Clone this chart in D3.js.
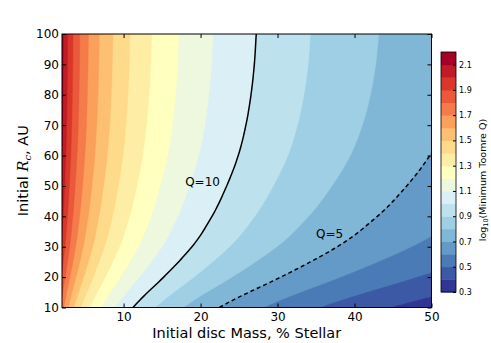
<!DOCTYPE html>
<html>
<head>
<meta charset="utf-8">
<script src="https://cdn.jsdelivr.net/npm/d3@7"></script>
<style>
  body { margin: 0; background: #fff; }
  text { font-family: "DejaVu Sans", sans-serif; fill: #000; }
</style>
</head>
<body>
<script>
// grid columns: initial disc mass, % stellar
var massCols = [ 2, 3, 5, 7, 10, 15, 20, 30, 40, 50 ];
// grid rows: initial Rc, AU
var rcRows = [ 10, 20, 30, 40, 50, 60, 70, 80, 90, 100 ];
// log10(minimum Toomre Q), one row per Rc
var logQ = [
  [ 1.749, 1.573, 1.351, 1.205, 1.050, 0.874, 0.749, 0.573, 0.448, 0.351 ],
  [ 1.881, 1.705, 1.483, 1.337, 1.182, 1.006, 0.881, 0.705, 0.580, 0.483 ],
  [ 1.975, 1.799, 1.577, 1.431, 1.276, 1.100, 0.975, 0.799, 0.674, 0.577 ],
  [ 2.031, 1.855, 1.633, 1.487, 1.332, 1.156, 1.031, 0.855, 0.730, 0.633 ],
  [ 2.068, 1.892, 1.670, 1.524, 1.369, 1.193, 1.068, 0.892, 0.767, 0.670 ],
  [ 2.095, 1.919, 1.697, 1.551, 1.396, 1.220, 1.095, 0.919, 0.794, 0.697 ],
  [ 2.112, 1.936, 1.714, 1.568, 1.413, 1.237, 1.112, 0.936, 0.811, 0.714 ],
  [ 2.123, 1.947, 1.725, 1.579, 1.424, 1.248, 1.123, 0.947, 0.822, 0.725 ],
  [ 2.130, 1.954, 1.732, 1.586, 1.431, 1.255, 1.130, 0.954, 0.829, 0.732 ],
  [ 2.134, 1.958, 1.736, 1.590, 1.435, 1.259, 1.134, 0.958, 0.833, 0.736 ]
];
// contourf levels and colorbar ticks
var levels = [ 0.3, 0.4, 0.5, 0.6, 0.7, 0.8, 0.9, 1.0, 1.1, 1.2, 1.3, 1.4, 1.5, 1.6, 1.7, 1.8, 1.9, 2.0, 2.1, 2.2 ];
var cbTicks = [ 0.3, 0.5, 0.7, 0.9, 1.1, 1.3, 1.5, 1.7, 1.9, 2.1 ];
var xTicks = [ 10, 20, 30, 40, 50 ];
var yTicks = [ 10, 20, 30, 40, 50, 60, 70, 80, 90, 100 ];
// marked Q contours
var lineQ = [ 10, 5 ];
var lineNames = [ "Q=10", "Q=5" ];

// RdYlBu, blue (low) to red (high), linear like matplotlib
var rdylbu = [ "#313695", "#4575b4", "#74add1", "#abd9e9", "#e0f3f8", "#ffffbf",
  "#fee090", "#fdae61", "#f46d43", "#d73027", "#a50026" ];

var W = 491, H = 343;
var pLeft = 62, pRight = 431.5, pTop = 34, pBottom = 307.5;

var svg = d3.select( "body" ).append( "svg" )
  .attr( "width", W )
  .attr( "height", H );

var xScale = d3.scaleLinear().domain( [ 2, 50 ] ).range( [ pLeft, pRight ] );
var yScale = d3.scaleLinear().domain( [ 10, 100 ] ).range( [ pBottom, pTop ] );

// layer colours: band midpoints normalised between first and last midpoint
var mids = levels.slice( 0, -1 ).map( function ( l, i ) { return ( l + levels[ i + 1 ] ) / 2; } );
var colour = d3.scaleLinear()
  .domain( d3.range( 11 ).map( function ( i ) { return mids[ 0 ] + i * ( mids[ mids.length - 1 ] - mids[ 0 ] ) / 10; } ) )
  .range( rdylbu )
  .interpolate( d3.interpolateRgb );

// field lookup on the read grid: linear in log mass, Catmull-Rom along Rc
var logMassCols = massCols.map( function ( m ) { return Math.log10( m ); } );

function rowAt( r ) {
  var n = rcRows.length;
  var j = Math.max( 0, Math.min( d3.bisectRight( rcRows, r ) - 1, n - 2 ) );
  var t = ( r - rcRows[ j ] ) / ( rcRows[ j + 1 ] - rcRows[ j ] );
  return logQ[ j ].map( function ( v, k ) {
    var p1 = v, p2 = logQ[ j + 1 ][ k ];
    var p0 = j > 0 ? logQ[ j - 1 ][ k ] : 2 * p1 - p2;
    var p3 = j < n - 2 ? logQ[ j + 2 ][ k ] : 2 * p2 - p1;
    return 0.5 * ( 2 * p1 + ( p2 - p0 ) * t + ( 2 * p0 - 5 * p1 + 4 * p2 - p3 ) * t * t +
      ( 3 * p1 - p0 - 3 * p2 + p3 ) * t * t * t );
  } );
}

function valueAt( m, row ) {
  var lm = Math.log10( m );
  var k = Math.max( 0, Math.min( d3.bisectRight( logMassCols, lm ) - 1, logMassCols.length - 2 ) );
  var t = ( lm - logMassCols[ k ] ) / ( logMassCols[ k + 1 ] - logMassCols[ k ] );
  return row[ k ] + ( row[ k + 1 ] - row[ k ] ) * t;
}

var nx = 320, ny = 240;
var gridM = d3.scaleLinear().domain( [ 0, nx - 1 ] ).range( xScale.domain() );
var gridR = d3.scaleLinear().domain( [ 0, ny - 1 ] ).range( yScale.domain() );
var values = new Array( nx * ny );
for ( var j = 0; j < ny; j++ ) {
  var row = rowAt( gridR( j ) );
  for ( var i = 0; i < nx; i++ ) {
    values[ j * nx + i ] = valueAt( gridM( i ), row );
  }
}

var contours = d3.contours().size( [ nx, ny ] ).thresholds( levels.slice( 0, -1 ) )( values );

var project = d3.geoTransform( {
  point: function ( x, y ) {
    this.stream.point( xScale( gridM( x - 0.5 ) ), yScale( gridR( y - 0.5 ) ) );
  }
} );
var path = d3.geoPath( project );

svg.append( "clipPath" ).attr( "id", "plotClip" )
  .append( "rect" )
  .attr( "x", pLeft ).attr( "y", pTop )
  .attr( "width", pRight - pLeft ).attr( "height", pBottom - pTop );

var plot = svg.append( "g" ).attr( "clip-path", "url(#plotClip)" );

plot.selectAll( "path.band" )
  .data( contours )
  .enter().append( "path" )
  .attr( "class", "band" )
  .attr( "d", path )
  .attr( "fill", function ( d, i ) { return colour( mids[ i ] ); } )
  .attr( "stroke", function ( d, i ) { return colour( mids[ i ] ); } )
  .attr( "stroke-width", 0.4 );

// Q=10 and Q=5 lines: crossing of each Rc row
var line = d3.line()
  .x( function ( d ) { return xScale( d[ 0 ] ); } )
  .y( function ( d ) { return yScale( d[ 1 ] ); } );

lineQ.forEach( function ( q, n ) {
  var level = Math.log10( q );
  var pts = [];
  d3.range( 0, 181 ).forEach( function ( s ) {
    var r = 10 + s * 0.5;
    var row = rowAt( r );
    for ( var k = 0; k < row.length - 1; k++ ) {
      if ( ( row[ k ] - level ) * ( row[ k + 1 ] - level ) <= 0 && row[ k ] !== row[ k + 1 ] ) {
        var t = ( row[ k ] - level ) / ( row[ k ] - row[ k + 1 ] );
        pts.push( [ Math.pow( 10, logMassCols[ k ] + t * ( logMassCols[ k + 1 ] - logMassCols[ k ] ) ), r ] );
        break;
      }
    }
  } );
  plot.append( "path" )
    .attr( "d", line( pts ) )
    .attr( "fill", "none" )
    .attr( "stroke", "#000" )
    .attr( "stroke-width", 1.5 )
    .attr( "stroke-dasharray", n === 1 ? "4,3" : null );
} );

svg.append( "text" )
  .attr( "x", xScale( 18 ) ).attr( "y", yScale( 50 ) )
  .attr( "font-size", 12 )
  .text( lineNames[ 0 ] );
svg.append( "text" )
  .attr( "x", xScale( 35 ) ).attr( "y", yScale( 33 ) )
  .attr( "font-size", 12 )
  .text( lineNames[ 1 ] );

// axes, ticks pointing inwards on all four sides
function styleAxis( g ) {
  g.select( ".domain" ).remove();
  g.selectAll( ".tick line" ).attr( "stroke", "#000" );
  g.selectAll( ".tick text" ).attr( "font-size", 12 ).attr( "font-family", "DejaVu Sans" ).attr( "fill", "#000" );
}

svg.append( "g" ).attr( "transform", "translate(0," + pBottom + ")" )
  .call( d3.axisBottom( xScale ).tickValues( xTicks ).tickSizeInner( -4 ).tickSizeOuter( 0 ).tickPadding( 5 ).tickFormat( d3.format( "d" ) ) )
  .call( styleAxis );
svg.append( "g" ).attr( "transform", "translate(0," + pTop + ")" )
  .call( d3.axisTop( xScale ).tickValues( xTicks ).tickSizeInner( -4 ).tickSizeOuter( 0 ).tickFormat( "" ) )
  .call( styleAxis );
svg.append( "g" ).attr( "transform", "translate(" + pLeft + ",0)" )
  .call( d3.axisLeft( yScale ).tickValues( yTicks ).tickSizeInner( -4 ).tickSizeOuter( 0 ).tickPadding( 3 ).tickFormat( d3.format( "d" ) ) )
  .call( styleAxis );
svg.append( "g" ).attr( "transform", "translate(" + pRight + ",0)" )
  .call( d3.axisRight( yScale ).tickValues( yTicks ).tickSizeInner( -4 ).tickSizeOuter( 0 ).tickFormat( "" ) )
  .call( styleAxis );

svg.append( "rect" )
  .attr( "x", pLeft ).attr( "y", pTop )
  .attr( "width", pRight - pLeft ).attr( "height", pBottom - pTop )
  .attr( "fill", "none" ).attr( "stroke", "#000" ).attr( "stroke-width", 1 );

svg.append( "text" )
  .attr( "x", ( pLeft + pRight ) / 2 ).attr( "y", 338 )
  .attr( "text-anchor", "middle" )
  .attr( "font-size", 14.5 )
  .text( "Initial disc Mass, % Stellar" );

var ylab = svg.append( "text" )
  .attr( "transform", "translate(28," + ( ( pTop + pBottom ) / 2 ) + ") rotate(-90)" )
  .attr( "text-anchor", "middle" )
  .attr( "font-size", 14.5 );
ylab.append( "tspan" ).text( "Initial " );
ylab.append( "tspan" ).attr( "font-family", "DejaVu Serif" ).attr( "font-style", "italic" ).text( "R" );
ylab.append( "tspan" ).attr( "font-family", "DejaVu Serif" ).attr( "font-style", "italic" ).attr( "font-size", 10 ).attr( "dy", 3 ).text( "c" );
ylab.append( "tspan" ).attr( "dy", -3 ).text( ", AU" );

// colorbar
var cbLeft = 441, cbRight = 456, cbTop = 52, cbBottom = 292;
var cbScale = d3.scaleLinear().domain( [ levels[ 0 ], levels[ levels.length - 1 ] ] ).range( [ cbBottom, cbTop ] );

svg.selectAll( "rect.cb" )
  .data( mids )
  .enter().append( "rect" )
  .attr( "class", "cb" )
  .attr( "x", cbLeft )
  .attr( "width", cbRight - cbLeft )
  .attr( "y", function ( d, i ) { return cbScale( levels[ i + 1 ] ); } )
  .attr( "height", function ( d, i ) { return cbScale( levels[ i ] ) - cbScale( levels[ i + 1 ] ) + 0.5; } )
  .attr( "fill", function ( d ) { return colour( d ); } );

svg.append( "g" ).attr( "transform", "translate(" + cbRight + ",0)" )
  .call( d3.axisRight( cbScale ).tickValues( cbTicks ).tickSizeInner( -3 ).tickSizeOuter( 0 ).tickPadding( 3 ).tickFormat( d3.format( ".1f" ) ) )
  .call( styleAxis )
  .selectAll( ".tick text" ).attr( "font-size", 8 );

svg.append( "rect" )
  .attr( "x", cbLeft ).attr( "y", cbTop )
  .attr( "width", cbRight - cbLeft ).attr( "height", cbBottom - cbTop )
  .attr( "fill", "none" ).attr( "stroke", "#000" ).attr( "stroke-width", 0.8 );

var cblab = svg.append( "text" )
  .attr( "transform", "translate(486," + ( ( cbTop + cbBottom ) / 2 + 8 ) + ") rotate(-90)" )
  .attr( "text-anchor", "middle" )
  .attr( "font-size", 9.5 );
cblab.append( "tspan" ).text( "log" );
cblab.append( "tspan" ).attr( "font-size", 6.5 ).attr( "dy", 2 ).text( "10" );
cblab.append( "tspan" ).attr( "dy", -2 ).text( "(Minimum Toomre Q)" );
</script>
</body>
</html>
